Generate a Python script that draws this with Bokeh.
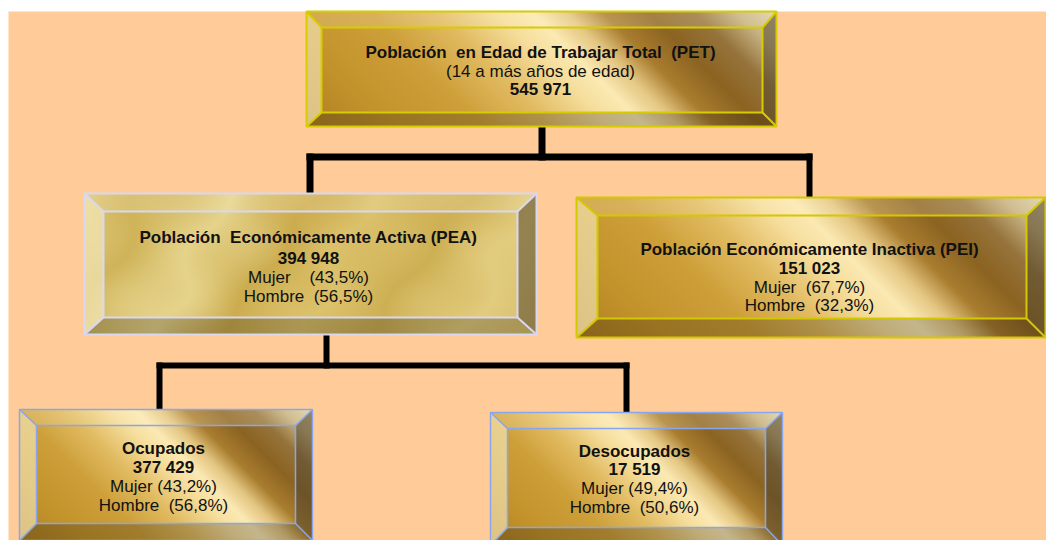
import numpy as np
from bokeh.plotting import figure
from bokeh.models import Range1d, ColumnDataSource
from bokeh.core.properties import value
from bokeh.embed import file_html
from bokeh.resources import INLINE

# ---------------- data ----------------
node_titles = ["Población\u00a0 en Edad de Trabajar Total\u00a0 (PET)",
               "Población\u00a0 Económicamente Activa (PEA)",
               "Población Económicamente Inactiva (PEI)",
               "Ocupados",
               "Desocupados"]
pet_note = "(14 a más años de edad)"
node_totals = ["545 971", "394 948", "151 023", "377 429", "17 519"]
node_mujer = [None, "43,5%", "67,7%", "43,2%", "49,4%"]
node_hombre = [None, "56,5%", "32,3%", "56,8%", "50,6%"]

# ---------------- layout (pixel coords of the page) ----------------
W0, H0 = 1046, 540
def Y(py):
    return H0 - py

boxes = [
    dict(outer=(306, 11, 776, 126), inner=(321, 27, 762, 112), style="gold", edge="#d6cc00", tx=540, ty=[52, 71, 89]),
    dict(outer=(84, 193, 536, 334), inner=(103, 211, 517, 317), style="pale", edge="#d8d8f2", tx=308, ty=[237, 258, 277, 296]),
    dict(outer=(576, 197, 1045, 337), inner=(597, 215, 1026, 318), style="gold", edge="#d4c800", tx=809, ty=[249, 268, 287, 305]),
    dict(outer=(19, 409, 312, 540), inner=(36, 425, 295, 523), style="gold", edge="#88a6f0", tx=163, ty=[448, 467, 486, 505]),
    dict(outer=(490, 412, 782, 545), inner=(507, 428, 765, 527), style="gold", edge="#88a6f0", tx=634, ty=[451, 469, 488, 507]),
]
NB = "\u00a0"
mujer_fmt = [None, "Mujer" + NB * 3 + " ({})", "Mujer" + NB + " ({})", "Mujer ({})", "Mujer ({})"]
hombre_fmt = [None, "Hombre" + NB + " ({})", "Hombre" + NB + " ({})", "Hombre" + NB + " ({})", "Hombre" + NB + " ({})"]

connectors = [
    (538, 126, 545, 160), (306, 153, 812, 160), (306, 153, 313, 194), (806, 153, 812, 198),
    (323, 334, 329, 368), (156, 362, 629, 368), (156, 362, 162, 410), (623, 362, 629, 413),
]

gold_stops = [(0.00, (176, 128, 36)), (0.15, (196, 148, 44)), (0.30, (206, 160, 58)),
              (0.42, (226, 188, 98)), (0.52, (246, 222, 156)), (0.58, (252, 234, 180)),
              (0.64, (228, 198, 130)), (0.70, (170, 126, 48)), (0.78, (140, 100, 34)),
              (0.86, (150, 116, 60)), (0.93, (198, 178, 130)), (1.00, (224, 210, 172))]
pale_stops = [(0.00, (222, 200, 120)), (0.12, (208, 180, 90)), (0.28, (230, 212, 140)),
              (0.42, (204, 172, 78)), (0.55, (220, 194, 108)), (0.70, (206, 176, 84)),
              (0.85, (226, 204, 126)), (1.00, (216, 190, 108))]


def texture(b):
    x0, y0, x1, y1 = b["outer"]
    ix0, iy0, ix1, iy1 = b["inner"]
    w, h = x1 - x0, y1 - y0
    yy, xx = np.mgrid[0:h, 0:w].astype(float)
    if b["style"] == "gold":
        stops = gold_stops
        t = (xx - yy + h) / (w + h)
    else:
        stops = pale_stops
        t = (xx + 0.6 * yy) / (w + 0.6 * h)
        t = t + 0.03 * np.sin(xx / 23.0) * np.cos(yy / 17.0)
        t = np.clip(t, 0, 1)
    pos = [s[0] for s in stops]
    col = np.stack([np.interp(t, pos, [s[1][k] for s in stops]) for k in range(3)], axis=-1)
    bl, br, bt, bb = ix0 - x0, x1 - ix1, iy0 - y0, y1 - iy1
    dl = xx / bl
    dr = (w - 1 - xx) / br
    dt = yy / bt
    db = (h - 1 - yy) / bb
    d = np.stack([dl, dr, dt, db])
    face = np.argmin(d, axis=0)
    inside = (d.min(axis=0) >= 1.0)
    out = col.copy()
    m = (~inside) & (face == 0)
    out[m] = col[m] * 0.4 + np.array([250, 240, 200]) * 0.6
    m = (~inside) & (face == 2)
    out[m] = col[m] * 0.8 + np.array([255, 245, 215]) * 0.2
    m = (~inside) & (face == 1)
    out[m] = col[m] * 0.45 + np.array([85, 72, 45]) * 0.55
    m = (~inside) & (face == 3)
    out[m] = col[m] * 0.78
    out = np.clip(out, 0, 255).astype(np.uint8)
    img = np.empty((h, w), dtype=np.uint32)
    v = img.view(dtype=np.uint8).reshape((h, w, 4))
    v[..., 0] = out[..., 0]
    v[..., 1] = out[..., 1]
    v[..., 2] = out[..., 2]
    v[..., 3] = 255
    return img[::-1].copy()


p = figure(width=W0, height=H0, x_range=Range1d(0, W0), y_range=Range1d(0, H0),
           output_backend="svg", toolbar_location=None, min_border=0,
           background_fill_color="white", border_fill_color="white", outline_line_color=None)
p.axis.visible = False
p.grid.visible = False

# peach background
p.quad(left=[8], right=[W0], bottom=[Y(540)], top=[Y(11)], fill_color="#FFCC99", line_color=None)

# connectors
p.quad(left=[c[0] for c in connectors], right=[c[2] for c in connectors],
       top=[Y(c[1]) for c in connectors], bottom=[Y(c[3]) for c in connectors],
       fill_color="black", line_color=None)

# boxes
for b in boxes:
    x0, y0, x1, y1 = b["outer"]
    ix0, iy0, ix1, iy1 = b["inner"]
    p.image_rgba(image=[texture(b)], x=x0, y=Y(y1), dw=x1 - x0, dh=y1 - y0)
    lw = 1.5 if b["edge"] == "#88a6f0" else 2
    p.quad(left=[x0, ix0], right=[x1, ix1], top=[Y(y0), Y(iy0)], bottom=[Y(y1), Y(iy1)],
           fill_alpha=0, line_color=b["edge"], line_width=lw)
    p.segment(x0=[x0, x1, x0, x1], y0=[Y(y0), Y(y0), Y(y1), Y(y1)],
              x1=[ix0, ix1, ix0, ix1], y1=[Y(iy0), Y(iy0), Y(iy1), Y(iy1)],
              line_color=b["edge"], line_width=lw)

# texts
bold = dict(x=[], y=[], text=[])
norm = dict(x=[], y=[], text=[])
for i, b in enumerate(boxes):
    ty = b["ty"]
    bold["x"].append(b["tx"]); bold["y"].append(Y(ty[0])); bold["text"].append(node_titles[i])
    if i == 0:
        norm["x"].append(b["tx"]); norm["y"].append(Y(ty[1])); norm["text"].append(pet_note)
        bold["x"].append(b["tx"]); bold["y"].append(Y(ty[2])); bold["text"].append(node_totals[i])
    else:
        bold["x"].append(b["tx"]); bold["y"].append(Y(ty[1])); bold["text"].append(node_totals[i])
        norm["x"].append(b["tx"]); norm["y"].append(Y(ty[2])); norm["text"].append(mujer_fmt[i].format(node_mujer[i]))
        norm["x"].append(b["tx"]); norm["y"].append(Y(ty[3])); norm["text"].append(hombre_fmt[i].format(node_hombre[i]))

p.text(x="x", y="y", text="text", source=ColumnDataSource(bold), text_font=value("Liberation Sans"),
       text_font_size="17px", text_font_style="bold", text_align="center", text_baseline="middle",
       text_color="#111111")
p.text(x="x", y="y", text="text", source=ColumnDataSource(norm), text_font=value("Liberation Sans"),
       text_font_size="17px", text_align="center", text_baseline="middle", text_color="#111111")

open("out.html", "w").write(file_html(p, INLINE))
